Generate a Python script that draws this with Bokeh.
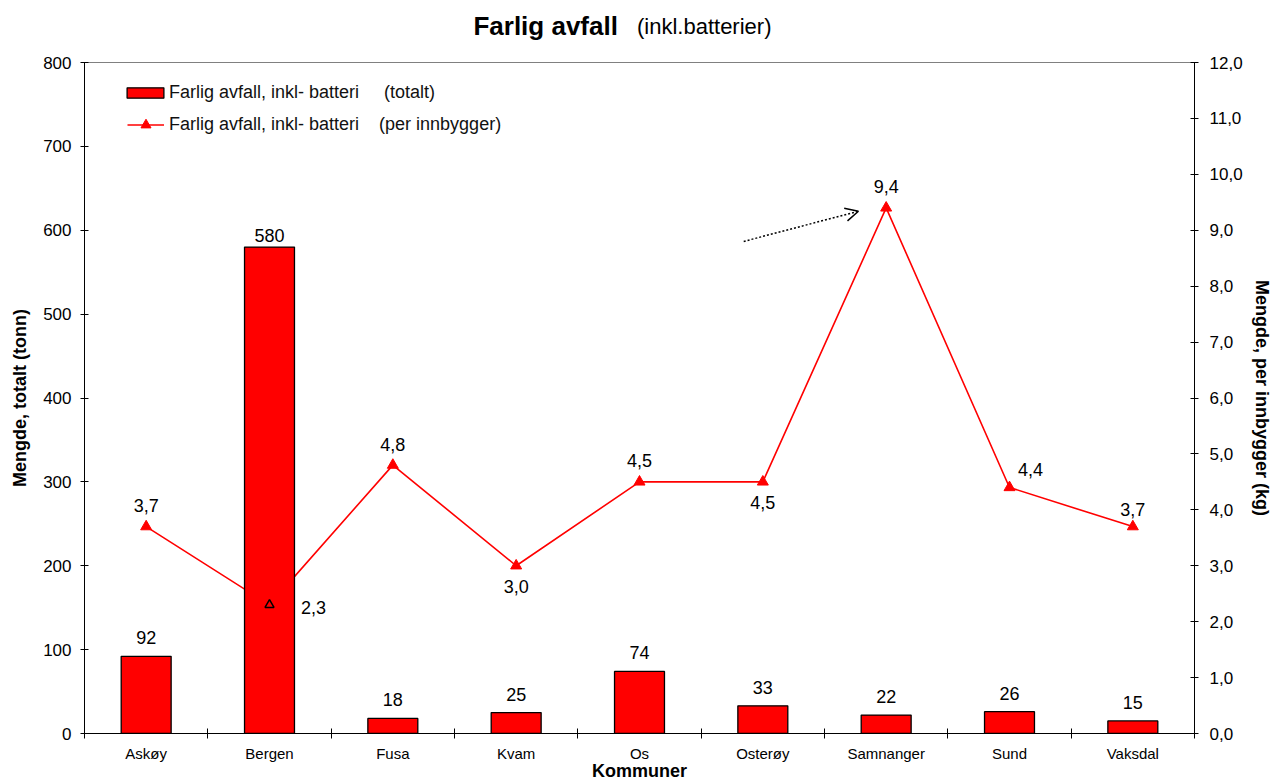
from bokeh.plotting import figure
from bokeh.models import (Range1d, LinearAxis, FixedTicker, ColumnDataSource, Legend,
                          LegendItem, Label, Arrow, OpenHead, CDSView, IndexFilter)
from bokeh.embed import file_html
from bokeh.resources import INLINE
from bokeh.core.properties import value

# ---------------- data ----------------
kommuner = ["Askøy", "Bergen", "Fusa", "Kvam", "Os", "Osterøy", "Samnanger", "Sund", "Vaksdal"]
totalt_tonn = [92, 580, 18, 25, 74, 33, 22, 26, 15]
per_innbygger_kg = [3.7, 2.3, 4.8, 3.0, 4.5, 4.5, 9.4, 4.4, 3.7]
left_ticks = [0, 100, 200, 300, 400, 500, 600, 700, 800]
right_ticks = [0, 1, 2, 3, 4, 5, 6, 7, 8, 9, 10, 11, 12]

title_main = "Farlig avfall"
title_sub = "(inkl.batterier)"
legend_total = "Farlig avfall, inkl- batteri\u00a0\u00a0\u00a0\u00a0 (totalt)"
legend_per = "Farlig avfall, inkl- batteri\u00a0\u00a0\u00a0 (per innbygger)"

# label placement (style only)
pp_label_pos = ["above", "right", "above", "below", "above", "below", "above", "above-right", "above-low"]
bar_label_pos = ["above", "close", "above", "above", "above", "above", "above", "above", "above"]
hollow_marker_name = "Bergen"

FONT = "Liberation Sans"
RED = "#ff0000"

n = len(kommuner)
xs = [i + 0.5 for i in range(n)]

offsets = {"above": (0, -21), "above-low": (0, -17), "below": (0, 21), "right": (44, 3),
           "above-right": (21, -18)}
pp_dx = [offsets[k][0] for k in pp_label_pos]
pp_dy = [offsets[k][1] for k in pp_label_pos]
bar_offsets = {"above": -12, "close": -5}
bar_dy = [bar_offsets[k] for k in bar_label_pos]

Y_MAX = 800
p = figure(width=1274, height=783, title=None,
           x_range=Range1d(0, n), y_range=Range1d(0, Y_MAX),
           output_backend="svg", toolbar_location=None,
           min_border_left=84, min_border_right=77, min_border_top=62, min_border_bottom=49,
           background_fill_color="white", border_fill_color="white")
p.extra_y_ranges = {"right": Range1d(0, 12)}
p.xgrid.visible = False
p.ygrid.visible = False
p.outline_line_color = "#808080"
p.outline_line_width = 1

# x axis (numeric, ticks at boundaries as minor ticks, labels at centers)
xa = p.xaxis[0]
xa.ticker = FixedTicker(ticks=xs, minor_ticks=list(range(n + 1)))
xa.major_label_overrides = {x: k for x, k in zip(xs, kommuner)}
xa.major_tick_in = 0
xa.major_tick_out = 0
xa.minor_tick_in = 5
xa.minor_tick_out = 5
xa.minor_tick_line_color = "black"
xa.axis_line_color = "black"
xa.major_label_standoff = 6
xa.major_label_text_font = FONT
xa.major_label_text_font_size = "15px"
xa.major_label_text_color = "black"
xa.axis_label = "Kommuner"
xa.axis_label_text_font = FONT
xa.axis_label_text_font_size = "18px"
xa.axis_label_text_font_style = "bold"
xa.axis_label_text_color = "black"
xa.axis_label_standoff = -4

ya = p.yaxis[0]
ya.ticker = FixedTicker(ticks=left_ticks)
ya.major_tick_in = 4
ya.major_tick_out = 4
ya.minor_tick_line_color = None
ya.major_label_standoff = 9
ya.major_label_text_font = FONT
ya.major_label_text_font_size = "17px"
ya.major_label_text_color = "black"
ya.axis_label = "Mengde, totalt (tonn)"
ya.axis_label_text_font = FONT
ya.axis_label_text_font_size = "18px"
ya.axis_label_text_font_style = "bold"
ya.axis_label_text_color = "black"
ya.axis_label_standoff = 10

ra = LinearAxis(y_range_name="right", ticker=FixedTicker(ticks=right_ticks))
ra.major_label_overrides = {t: f"{t:.1f}".replace(".", ",") for t in right_ticks}
ra.major_tick_in = 4
ra.major_tick_out = 4
ra.minor_tick_line_color = None
ra.major_label_standoff = 11
ra.major_label_text_font = FONT
ra.major_label_text_font_size = "17px"
ra.major_label_text_color = "black"
ra.axis_label = "Mengde, per innbygger (kg)"
ra.axis_label_text_font = FONT
ra.axis_label_text_font_size = "18px"
ra.axis_label_text_font_style = "bold"
ra.axis_label_text_color = "black"
ra.axis_label_standoff = 6
p.add_layout(ra, "right")

# sources
bar_src = ColumnDataSource(dict(x=xs, top=totalt_tonn, label=[str(v) for v in totalt_tonn],
                                dy=bar_dy))
pp_src = ColumnDataSource(dict(x=xs, y=per_innbygger_kg,
                               label=[f"{v:.1f}".replace(".", ",") for v in per_innbygger_kg],
                               dx=pp_dx, dy=pp_dy))

# line (drawn beneath the bars)
line_r = p.line("x", "y", source=pp_src, y_range_name="right", line_color=RED, line_width=1.6)

# bars
bar_r = p.vbar(x="x", top="top", bottom=0, width=0.405, source=bar_src,
               fill_color=RED, line_color="black", line_width=1.3)

# markers
hi = kommuner.index(hollow_marker_name)
normal_idx = [i for i in range(n) if i != hi]
sc_r = p.scatter("x", "y", source=pp_src, view=CDSView(filter=IndexFilter(indices=normal_idx)),
                 marker="triangle", size=11, fill_color=RED, line_color=RED,
                 y_range_name="right")
p.scatter("x", "y", source=pp_src, view=CDSView(filter=IndexFilter(indices=[hi])),
          marker="triangle", size=9, fill_color=None, line_color="black", line_width=1.5,
          y_range_name="right")

# bar value labels
p.text(x="x", y="top", text="label", source=bar_src, text_font=value(FONT),
       text_font_size="18px", text_align="center", text_baseline="bottom",
       y_offset="dy", text_color="black")

# per-capita labels
p.text(x="x", y="y", text="label", source=pp_src, text_font=value(FONT),
       text_font_size="18px", text_align="center", text_baseline="middle",
       x_offset="dx", y_offset="dy", text_color="black", y_range_name="right")

# dotted arrow pointing at the peak
p.add_layout(Arrow(x_start=5.345, y_start=8.80, x_end=6.275, y_end=9.34,
                   y_range_name="right", line_color="black", line_width=1.5, line_dash="2 2",
                   end=OpenHead(size=13, line_color="black", line_width=1.5)))

# legends (two, so that bar swatch and marker can have their own glyph heights)
FH = 672
leg1 = Legend(items=[LegendItem(label=legend_total, renderers=[bar_r])],
              location=(38, FH - 42), glyph_width=46, glyph_height=13,
              label_standoff=1, padding=0, margin=0, spacing=0,
              border_line_color=None, background_fill_alpha=0,
              label_text_font=FONT, label_text_font_size="18px", label_text_color="#111111")
leg2 = Legend(items=[LegendItem(label=legend_per, renderers=[line_r, sc_r])],
              location=(43, FH - 76), glyph_width=37, glyph_height=25,
              label_standoff=5, padding=0, margin=0, spacing=0,
              border_line_color=None, background_fill_alpha=0,
              label_text_font=FONT, label_text_font_size="18px", label_text_color="#111111")
p.add_layout(leg1)
p.add_layout(leg2)

# two-part title above the frame: bold main text + normal subtitle
px_per_unit = FH / Y_MAX
title_y = Y_MAX + 37 / px_per_unit
p.add_layout(Label(x=390 / 123.67, y=title_y, text=title_main,
                   text_font=FONT, text_font_size="26px", text_font_style="bold",
                   text_baseline="middle", text_align="left", text_color="black"), "above")
p.add_layout(Label(x=554 / 123.67, y=title_y - 1 / px_per_unit, text=title_sub,
                   text_font=FONT, text_font_size="22px",
                   text_baseline="middle", text_align="left", text_color="black"), "above")

open("out.html", "w").write(file_html(p, INLINE))
